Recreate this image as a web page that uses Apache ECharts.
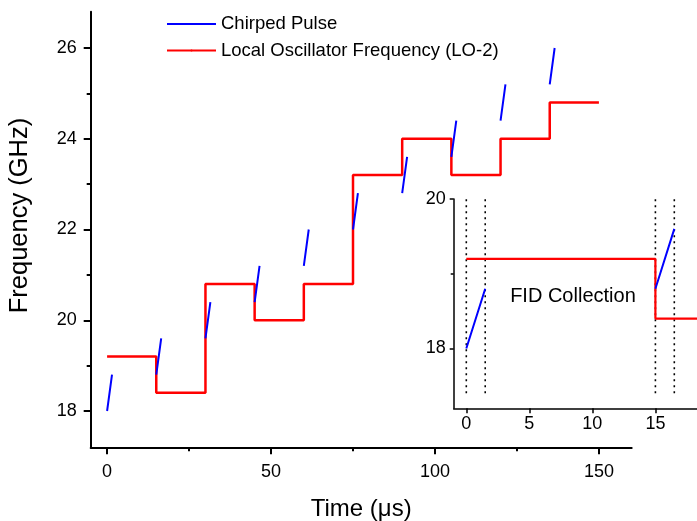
<!DOCTYPE html>
<html>
<head>
<meta charset="utf-8">
<script src="https://cdn.jsdelivr.net/npm/echarts@6/dist/echarts.min.js"></script>
<style>html,body{margin:0;padding:0;background:#fff}#c{width:697px;height:521px}</style>
</head>
<body>
<div id="c"></div>
<script>
// ---- data ----
const loTimes = [0, 15, 30, 45, 60, 75, 90, 105, 120, 135, 150];
const loLevels = [19.2, 18.4, 20.8, 20.0, 20.8, 23.2, 24.0, 23.2, 24.0, 24.8];
const pulseStartTimes = [0, 15, 30, 45, 60, 75, 90, 105, 120, 135];
const pulseEndTimes = [1.5, 16.5, 31.5, 46.5, 61.5, 76.5, 91.5, 106.5, 121.5, 136.5];
const pulseStartFreq = [18.0, 18.8, 19.6, 20.4, 21.2, 22.0, 22.8, 23.6, 24.4, 25.2];
const pulseEndFreq = [18.8, 19.6, 20.4, 21.2, 22.0, 22.8, 23.6, 24.4, 25.2, 26.0];
const gateTimes = [0, 1.5, 15, 16.5];
const gateRange = [17.4, 20.0];
const mainXTicks = [0, 50, 100, 150];
const mainXMinor = [25, 75, 125];
const mainYTicks = [18, 20, 22, 24, 26];
const mainYMinor = [19, 21, 23, 25];
const insetXTicks = [0, 5, 10, 15];
const insetYTicks = [18, 20];
const insetYMinor = [19];
const seriesNames = ['Chirped Pulse', 'Local Oscillator Frequency (LO-2)'];
const annotationText = 'FID Collection';
const annotationPos = [8.46, 18.69];

// ---- build ----
const FONT = '"Liberation Sans", Arial, sans-serif';
const loData = loTimes.map((t, i) => [t, loLevels[Math.min(i, loLevels.length - 1)]]);
const pulseData = [];
pulseStartTimes.forEach((t, i) => {
  pulseData.push([t, pulseStartFreq[i]]);
  pulseData.push([pulseEndTimes[i], pulseEndFreq[i]]);
  pulseData.push(['-', '-']);
});

function mkSeries(xi, yi, lw) {
  return [
    { name: seriesNames[1], type: 'line', xAxisIndex: xi, yAxisIndex: yi, step: 'end',
      data: loData, symbol: 'none', legendIcon: 'rect', lineStyle: { color: '#ff0000', width: lw },
      itemStyle: { color: '#ff0000' }, animation: false, clip: true, z: 3 },
    { name: seriesNames[0], type: 'line', xAxisIndex: xi, yAxisIndex: yi,
      data: pulseData, symbol: 'none', legendIcon: 'rect', connectNulls: false,
      lineStyle: { color: '#0000ff', width: 2 }, itemStyle: { color: '#0000ff' }, animation: false, clip: true, z: 4 }
  ];
}

const series = [].concat(mkSeries(0, 0, 2.5), mkSeries(2, 2, 2.2));
gateTimes.forEach(t => {
  series.push({ type: 'line', xAxisIndex: 2, yAxisIndex: 2, data: [[t, gateRange[0]], [t, gateRange[1]]],
    symbol: 'none', lineStyle: { color: '#000', width: 1.6, type: [2, 4] }, animation: false, silent: true, z: 2 });
});
series.push({ type: 'scatter', xAxisIndex: 2, yAxisIndex: 2, data: [annotationPos], symbolSize: 0,
  itemStyle: { opacity: 1 },
  label: { show: true, position: 'inside', formatter: annotationText, color: '#000', textBorderWidth: 0,
    fontSize: 20, fontFamily: FONT },
  animation: false, silent: true });

const lbl = { color: '#000', fontSize: 18, fontFamily: FONT };
const chart = echarts.init(document.getElementById('c'));
chart.setOption({
  backgroundColor: '#fff',
  animation: false,
  legend: {
    orient: 'vertical', left: 166, top: 14, padding: 0, itemGap: 6.5, itemWidth: 49, itemHeight: 2.5,
    data: seriesNames, textStyle: { color: '#000', fontSize: 18.5, fontFamily: FONT, lineHeight: 20 }
  },
  grid: [
    { left: 90.7, right: 65.3, top: 11.7, bottom: 73.7, outerBoundsMode: 'none', containLabel: false },
    { left: 453.7, right: 0, top: 199, bottom: 112.7, outerBoundsMode: 'none', containLabel: false }
  ],
  xAxis: [
    { type: 'value', gridIndex: 0, min: -5, max: 160, position: 'bottom',
      name: 'Time (μs)', nameLocation: 'middle', nameGap: 50,
      nameTextStyle: { color: '#000', fontSize: 24, fontFamily: FONT },
      axisLine: { show: true, onZero: false, lineStyle: { color: '#000', width: 2 } },
      axisTick: { show: true, length: 7, customValues: mainXTicks, lineStyle: { color: '#000', width: 2 } },
      axisLabel: { customValues: mainXTicks, margin: 16, ...lbl },
      splitLine: { show: false } },
    { type: 'value', gridIndex: 0, min: -5, max: 160, position: 'bottom',
      axisLine: { show: false, onZero: false },
      axisTick: { show: true, length: 4, customValues: mainXMinor, lineStyle: { color: '#000', width: 2 } },
      axisLabel: { show: false }, splitLine: { show: false } },
    { type: 'value', gridIndex: 1, min: -1, max: 18.3, position: 'bottom',
      axisLine: { show: true, onZero: false, lineStyle: { color: '#000', width: 1.5 } },
      axisTick: { show: true, length: 5, customValues: insetXTicks, lineStyle: { color: '#000', width: 1.5 } },
      axisLabel: { customValues: insetXTicks, margin: 7, ...lbl },
      splitLine: { show: false } }
  ],
  yAxis: [
    { type: 'value', gridIndex: 0, min: 17.2, max: 26.8, position: 'left',
      name: 'Frequency (GHz)', nameLocation: 'middle', nameGap: 58,
      nameTextStyle: { color: '#000', fontSize: 25.5, fontFamily: FONT, padding: [0, 0, 0, 28] },
      axisLine: { show: true, onZero: false, lineStyle: { color: '#000', width: 2 } },
      axisTick: { show: true, length: 7, customValues: mainYTicks, lineStyle: { color: '#000', width: 2 } },
      axisLabel: { customValues: mainYTicks, margin: 14, ...lbl },
      splitLine: { show: false } },
    { type: 'value', gridIndex: 0, min: 17.2, max: 26.8, position: 'left', offset: 0,
      axisLine: { show: false, onZero: false },
      axisTick: { show: true, length: 4, customValues: mainYMinor, lineStyle: { color: '#000', width: 2 } },
      axisLabel: { show: false }, splitLine: { show: false } },
    { type: 'value', gridIndex: 1, min: 17.2, max: 20, position: 'left',
      axisLine: { show: true, onZero: false, lineStyle: { color: '#000', width: 1.5 } },
      axisTick: { show: true, length: 4, customValues: insetYTicks, lineStyle: { color: '#000', width: 1.5 } },
      axisLabel: { customValues: insetYTicks, margin: 8, ...lbl },
      splitLine: { show: false } },
    { type: 'value', gridIndex: 1, min: 17.2, max: 20, position: 'left', offset: 0,
      axisLine: { show: false, onZero: false },
      axisTick: { show: true, length: 3, customValues: insetYMinor, lineStyle: { color: '#000', width: 1.5 } },
      axisLabel: { show: false }, splitLine: { show: false } }
  ],
  series: series
});
</script>
</body>
</html>
